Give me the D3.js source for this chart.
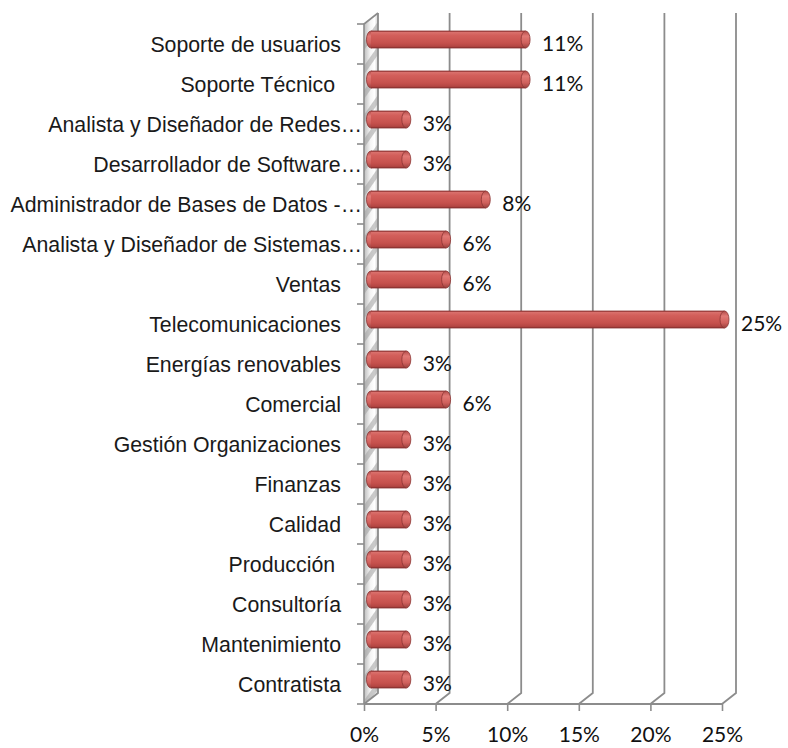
<!DOCTYPE html>
<html><head><meta charset="utf-8">
<script src="https://cdn.jsdelivr.net/npm/d3@7"></script>
<style>body{margin:0;background:#fff}svg text{white-space:pre}</style>
</head><body><svg id="c" width="788" height="748"></svg>
<script>
const categories = ["Soporte de usuarios","Soporte Técnico ","Analista y Diseñador de Redes…","Desarrollador de Software…","Administrador de Bases de Datos -…","Analista y Diseñador de Sistemas…","Ventas","Telecomunicaciones","Energías renovables","Comercial","Gestión Organizaciones","Finanzas","Calidad","Producción ","Consultoría","Mantenimiento","Contratista"];
const values = [11.11,11.11,2.78,2.78,8.33,5.56,5.56,25.0,2.78,5.56,2.78,2.78,2.78,2.78,2.78,2.78,2.78];
const xTicks = [0,5,10,15,20,25];

const svg = d3.select("#c");
svg.append("rect").attr("width",788).attr("height",748).attr("fill","#fff");
const defs = svg.append("defs");

const DX = 14, DY = -11;
const floorY = 704, topY = 24;
const xF = d3.scaleLinear().domain([0,25]).range([364,722]);
const xM = v => xF(v) + DX/2;
const y = d3.scaleBand().domain(categories).range([topY, floorY]);

// gradients
const bg = defs.append("linearGradient").attr("id","barG").attr("x1",0).attr("y1",0).attr("x2",0).attr("y2",1);
[[0,"#9a3836"],[0.08,"#d9706c"],[0.25,"#d35f5b"],[0.7,"#c6514d"],[0.9,"#b44643"],[1,"#87302e"]].forEach(s=>bg.append("stop").attr("offset",s[0]).attr("stop-color",s[1]));
const cg = defs.append("linearGradient").attr("id","capG").attr("x1",0).attr("y1",0).attr("x2",0).attr("y2",1);
[[0,"#b04a47"],[0.3,"#e27a76"],[0.7,"#cf605c"],[1,"#97403d"]].forEach(s=>cg.append("stop").attr("offset",s[0]).attr("stop-color",s[1]));
const wg = defs.append("linearGradient").attr("id","wallG").attr("x1",0).attr("y1",0).attr("x2",1).attr("y2",0);
[[0,"#bdbdbd"],[0.45,"#f4f4f4"],[0.75,"#ffffff"],[1,"#d0d0d0"]].forEach(s=>wg.append("stop").attr("offset",s[0]).attr("stop-color",s[1]));
const pat = defs.append("pattern").attr("id","hatch").attr("patternUnits","userSpaceOnUse").attr("width",14).attr("height",14).attr("patternTransform","rotate(35)");
pat.append("rect").attr("width",14).attr("height",14).attr("fill","#ffffff").attr("opacity",0);
pat.append("rect").attr("x",0).attr("width",5).attr("height",14).attr("fill","#9e9e9e").attr("opacity",0.55);

// left wall
const wallD = "M"+[[xF(0),topY],[xF(0)+DX,topY+DY],[xF(0)+DX,floorY+DY],[xF(0),floorY]].map(p=>p.join(",")).join("L")+"Z";
svg.append("path").attr("d",wallD).attr("fill","url(#wallG)");
svg.append("path").attr("d",wallD).attr("fill","url(#hatch)");
svg.append("path").attr("d",`M${xF(0)},${floorY}L${xF(0)},${topY}L${xF(0)+DX},${topY+DY}`).attr("fill","none").attr("stroke","#8c8c8c").attr("stroke-width",1.6);

// gridlines (floor diagonals + back verticals)
const grid = svg.append("g").attr("stroke","#8c8c8c").attr("stroke-width",1.8).attr("fill","none");
xTicks.forEach(t=>{
  grid.append("path").attr("d",`M${xF(t)},${floorY}L${xF(t)+DX},${floorY+DY}L${xF(t)+DX},${topY+DY}`);
});
// front floor edge + bottom ticks
const xAxis = d3.axisBottom(xF).tickValues(xTicks).tickSize(7).tickFormat(d=>d+"%");
const gx = svg.append("g").attr("transform",`translate(0,${floorY})`).call(xAxis);
gx.select(".domain").attr("stroke","#8c8c8c").attr("stroke-width",1.8).attr("d",`M${xF(0)},0H${xF(25)}`);
gx.selectAll(".tick line").attr("stroke","#8c8c8c").attr("stroke-width",1.6);
gx.selectAll(".tick text").attr("font-family","Lato, 'Open Sans', sans-serif").attr("font-size",21).attr("fill","#111").attr("y",23).attr("dy","0.71em");

// left category ticks
const yTicks = d3.range(categories.length+1).map(i=>topY + i*y.step());
svg.append("g").selectAll("line").data(yTicks).join("line")
  .attr("x1",xF(0)-7).attr("x2",xF(0)).attr("y1",d=>d).attr("y2",d=>d)
  .attr("stroke","#8c8c8c").attr("stroke-width",1.6);

// category labels
svg.append("g").selectAll("text").data(categories).join("text")
  .attr("x",d=>d.endsWith("…")?362:341)
  .attr("y",d=>y(d)+y.bandwidth()/2+8)
  .attr("text-anchor","end")
  .attr("font-family","'Liberation Sans', Arial, sans-serif").attr("font-size",21.3).attr("fill","#1a1a1a")
  .text(d=>d);

// bars (cylinders)
const H = 17, RX = 4.5, OFF = -4.5;
const cyOf = d => y(d.c)+y.bandwidth()/2+OFF;
const bars = svg.append("g").selectAll("g").data(categories.map((c,i)=>({c,v:values[i]}))).join("g");
bars.append("ellipse").attr("cx",xM(0)).attr("cy",cyOf).attr("rx",RX).attr("ry",H/2)
  .attr("fill","url(#capG)").attr("stroke","#8a3432").attr("stroke-width",0.8);
bars.append("rect").attr("x",xM(0)).attr("y",d=>cyOf(d)-H/2)
  .attr("width",d=>Math.max(0,xM(d.v)-RX-xM(0))).attr("height",H)
  .attr("fill","url(#barG)");
bars.append("path").attr("d",d=>{const cy=cyOf(d);return `M${xM(0)},${cy-H/2}H${xM(d.v)-RX}M${xM(0)},${cy+H/2}H${xM(d.v)-RX}`;})
  .attr("stroke","#8a3432").attr("stroke-width",0.8).attr("fill","none");
bars.append("ellipse").attr("cx",d=>xM(d.v)-RX).attr("cy",cyOf).attr("rx",RX).attr("ry",H/2)
  .attr("fill","url(#capG)").attr("stroke","#8a3432").attr("stroke-width",0.8);

// value labels
bars.append("text").attr("x",d=>xM(d.v)+12).attr("y",d=>y(d.c)+y.bandwidth()/2+7)
  .attr("font-family","Lato, 'Open Sans', sans-serif").attr("font-size",21).attr("fill","#111")
  .text(d=>Math.round(d.v)+"%");
</script></body></html>
